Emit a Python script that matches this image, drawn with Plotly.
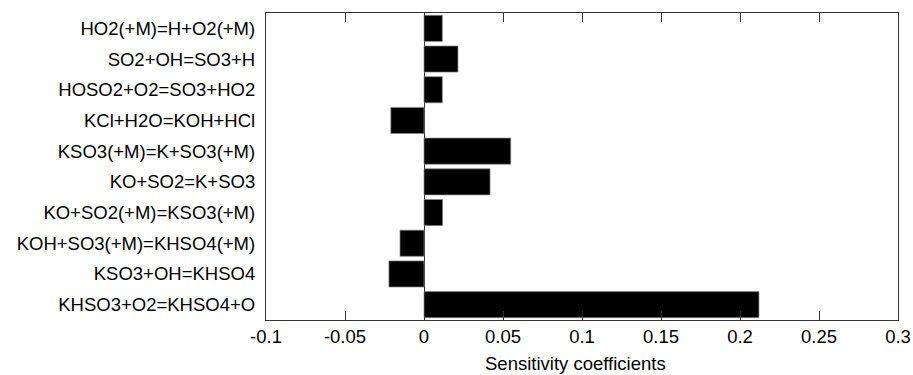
import plotly.graph_objects as go

reactions = [
    "HO2(+M)=H+O2(+M)",
    "SO2+OH=SO3+H",
    "HOSO2+O2=SO3+HO2",
    "KCl+H2O=KOH+HCl",
    "KSO3(+M)=K+SO3(+M)",
    "KO+SO2=K+SO3",
    "KO+SO2(+M)=KSO3(+M)",
    "KOH+SO3(+M)=KHSO4(+M)",
    "KSO3+OH=KHSO4",
    "KHSO3+O2=KHSO4+O",
]
sensitivity = [0.0116, 0.0215, 0.0116, -0.021, 0.0549, 0.0418, 0.0118, -0.0152, -0.0222, 0.212]

x_ticks = [-0.1, -0.05, 0, 0.05, 0.1, 0.15, 0.2, 0.25, 0.3]
x_tick_text = ["-0.1", "-0.05", "0", "0.05", "0.1", "0.15", "0.2", "0.25", "0.3"]

FONT = "Liberation Sans, Arial, Helvetica, sans-serif"

fig = go.Figure()
fig.add_trace(go.Bar(
    x=sensitivity, y=reactions, orientation="h",
    marker=dict(color="black", line=dict(color="#888888", width=0.7)),
))

fig.update_layout(
    width=913, height=375,
    margin=dict(l=266, r=15, t=13, b=55, autoexpand=False),
    paper_bgcolor="white", plot_bgcolor="white",
    font=dict(family=FONT, size=18.5, color="black"),
    showlegend=False, bargap=0.15,
    xaxis=dict(
        range=[-0.1, 0.3], tickvals=x_ticks, ticktext=x_tick_text,
        ticks="inside", ticklen=9, tickwidth=1.2, tickcolor="#333333",
        showline=True, linecolor="#333333", linewidth=1.2, mirror="allticks",
        showgrid=False, zeroline=True, zerolinecolor="#333333", zerolinewidth=1.2,
        tickfont=dict(size=18.5), automargin=False,
    ),
    yaxis=dict(
        categoryorder="array", categoryarray=reactions, autorange="reversed",
        showline=True, linecolor="#333333", linewidth=1.2, mirror=True,
        ticks="", showgrid=False, ticklabelstandoff=6,
        tickfont=dict(size=18.5), automargin=False,
    ),
    annotations=[dict(
        text="Sensitivity coefficients", xref="paper", yref="paper",
        x=0.489, y=-0.143, xanchor="center", yanchor="middle",
        showarrow=False, font=dict(size=18.5),
    )],
)

fig.write_html(
    "out.html",
    config={"displayModeBar": False},
    post_script="document.body.style.margin='0';document.body.style.padding='0';",
)
